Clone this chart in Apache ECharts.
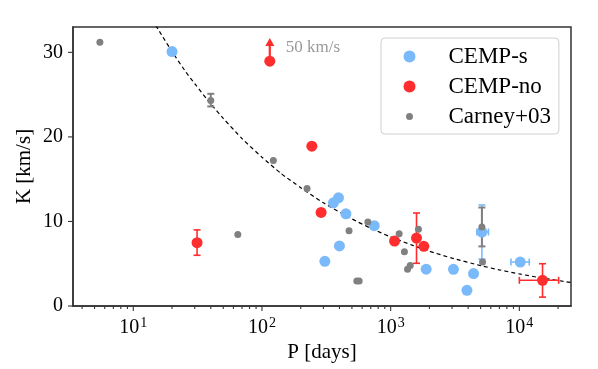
<!DOCTYPE html>
<html>
<head>
<meta charset="utf-8">
<script src="https://cdn.jsdelivr.net/npm/echarts@6/dist/echarts.min.js"></script>
<style>
html,body{margin:0;padding:0;background:#fff;}
#c{width:598px;height:369px;}
</style>
</head>
<body>
<div id="c"></div>
<script>
// ---- data ----
// CEMP-s
const sP = [20.0, 393, 359, 449, 745, 400, 308, 1888, 3076, 4406, 3915, 5117, 10160];
const sK = [30.1, 12.8, 12.2, 10.9, 9.5, 7.1, 5.28, 4.35, 4.34, 3.83, 1.86, 8.75, 5.2];
// error bars: [index, Plo, Phi, Klo, Khi]
const sErr = [[11, 4677, 5754, 5.55, 11.95], [12, 8610, 11940, 5.2, 5.2]];
// CEMP-no
const rP = [31.3, 244, 288, 1072, 1588, 1811, 15140];
const rK = [7.49, 18.9, 11.07, 7.68, 8.04, 7.06, 3.04];
const rErr = [[0, 31.3, 31.3, 6.0, 9.0], [4, 1588, 1588, 5.05, 11.0], [6, 10000, 20200, 1.05, 5.0]];
// CEMP-no lower limit (arrow), actual value 50 km/s
const rArrowP = [115];
const rArrowK = [28.96];
const rArrowTop = [31.7];
const arrowLabel = '50 km/s';
// Carney+03
const gP = [5.5, 40, 122.5, 224, 64.9, 475, 665, 1164, 1644, 1279, 1352, 1419, 546, 569, 5117, 5176];
const gK = [31.2, 24.3, 17.2, 13.9, 8.47, 8.9, 9.93, 8.56, 9.07, 6.43, 4.34, 4.78, 2.95, 2.95, 9.34, 5.2];
const gErr = [[1, 40, 40, 23.6, 25.1], [14, 5117, 5117, 7.05, 11.65]];
// dashed curve
const curveP = [14, 17, 20, 25, 30, 40, 50, 70, 100, 140, 200, 300, 500, 700, 1000, 1500, 2000, 3000, 5000, 7000, 10000, 15000, 25000];
const curveK = [33.9, 31.8, 30.1, 27.9, 26.3, 23.9, 22.2, 19.8, 17.6, 15.7, 14.0, 12.2, 10.3, 9.20, 8.17, 7.14, 6.48, 5.66, 4.78, 4.27, 3.79, 3.31, 2.79];
// axes
const xMin = 3.4, xMax = 25200;
const yMin = 0, yMax = 33, yInterval = 10;
const yTicks = [0, 10, 20, 30];
const xMajorTicks = [10, 100, 1000, 10000];
const xMinorTicks = [4,5,6,7,8,9, 20,30,40,50,60,70,80,90, 200,300,400,500,600,700,800,900, 2000,3000,4000,5000,6000,7000,8000,9000, 20000];
const seriesNames = ['CEMP-s', 'CEMP-no', 'Carney+03'];
const xTitle = 'P [days]';
const yTitle = 'K [km/s]';

// ---- style ----
const FONT = '"Liberation Serif", "DejaVu Serif", serif';
const BLUE = 'rgb(122,186,250)';
const RED = 'rgb(255,45,45)';
const GRAY = '#808080';
const SPINE = '#333';

const zip = (a, b) => a.map((v, i) => [v, b[i]]);
const errData = (P, K, E) => E.map(e => [P[e[0]], K[e[0]], e[1], e[2], e[3], e[4]]);

function errRender(color, w) {
  return function (params, api) {
    const P = api.value(0), K = api.value(1);
    const xl = api.value(2), xh = api.value(3), yl = api.value(4), yh = api.value(5);
    const cap = 3.5;
    const ch = [];
    const st = { stroke: color, lineWidth: w };
    const L = (x1, y1, x2, y2) => ch.push({ type: 'line', shape: { x1, y1, x2, y2 }, style: st });
    if (yl !== yh) {
      const a = api.coord([P, yl]), b = api.coord([P, yh]);
      L(a[0], a[1], b[0], b[1]);
      L(a[0] - cap, a[1], a[0] + cap, a[1]);
      L(b[0] - cap, b[1], b[0] + cap, b[1]);
    }
    if (xl !== xh) {
      const a = api.coord([xl, K]), b = api.coord([xh, K]);
      L(a[0], a[1], b[0], b[1]);
      L(a[0], a[1] - cap, a[0], a[1] + cap);
      L(b[0], b[1] - cap, b[0], b[1] + cap);
    }
    return { type: 'group', children: ch };
  };
}

function xTickRender(len) {
  return function (params, api) {
    const p = api.coord([api.value(0), yMin]);
    return { type: 'line', shape: { x1: p[0], y1: p[1], x2: p[0], y2: p[1] + len },
      style: { stroke: SPINE, lineWidth: 1.1 } };
  };
}
function yTickRender(len) {
  return function (params, api) {
    const p = api.coord([xMin, api.value(1)]);
    return { type: 'line', shape: { x1: p[0], y1: p[1], x2: p[0] - len, y2: p[1] },
      style: { stroke: SPINE, lineWidth: 1.1 } };
  };
}

const chart = echarts.init(document.getElementById('c'), null, { renderer: 'canvas' });
chart.setOption({
  animation: false,
  backgroundColor: '#fff',
  textStyle: { fontFamily: FONT },
  grid: { left: 73, right: 27, top: 27, bottom: 63, show: true, borderColor: SPINE, borderWidth: 1.5, backgroundColor: 'transparent' },
  xAxis: {
    type: 'log', logBase: 10, min: xMin, max: xMax,
    name: xTitle, nameLocation: 'middle', nameGap: 34,
    nameTextStyle: { fontFamily: FONT, fontSize: 21, color: '#000' },
    axisLine: { show: true, lineStyle: { color: SPINE, width: 1.5 } },
    axisTick: { show: false },
    splitLine: { show: false },
    minorTick: { show: false },
    axisLabel: {
      margin: 10, showMinLabel: false, showMaxLabel: false,
      formatter: function (v) {
        const e = Math.round(Math.log10(v));
        if (Math.abs(Math.log10(v) - e) > 1e-6) return '';
        return '{b|10}{s|' + e + '}';
      },
      rich: {
        b: { fontFamily: FONT, fontSize: 20, color: '#000' },
        s: { fontFamily: FONT, fontSize: 14, color: '#000', padding: [0, 0, 9, 1] }
      }
    }
  },
  yAxis: {
    type: 'value', min: yMin, max: yMax, interval: yInterval,
    name: yTitle, nameLocation: 'middle', nameGap: 38, nameMoveOverlap: false,
    nameTextStyle: { fontFamily: FONT, fontSize: 21, color: '#000' },
    axisLine: { show: true, lineStyle: { color: SPINE, width: 1.5 } },
    axisTick: { show: false },
    splitLine: { show: false },
    axisLabel: { margin: 10, fontFamily: FONT, fontSize: 20, color: '#000', showMaxLabel: false,
      formatter: function (v) { return yTicks.indexOf(v) >= 0 ? String(v) : ''; } }
  },
  legend: {
    data: [
      { name: seriesNames[0] },
      { name: seriesNames[1] },
      { name: seriesNames[2], itemStyle: { borderColor: '#fff', borderWidth: 5 } }
    ],
    orient: 'vertical', left: 381, top: 38,
    itemWidth: 28, itemHeight: 12, itemGap: 7,
    padding: [7, 8, 6, 20],
    backgroundColor: 'rgba(255,255,255,0.85)', borderColor: '#d0d0d0', borderWidth: 1, borderRadius: 4,
    icon: 'circle',
    selectedMode: false,
    textStyle: { fontFamily: FONT, fontSize: 23, color: '#000', padding: [0, 0, 0, 20], lineHeight: 23 }
  },
  series: [
    { type: 'line', data: zip(curveP, curveK), showSymbol: false, smooth: 0.2, clip: true,
      lineStyle: { color: '#000', width: 1.2, type: [4, 3] }, silent: true, z: 1 },
    { type: 'custom', name: 'xmajor', data: xMajorTicks.map(v => [v]), renderItem: xTickRender(5), clip: false, silent: true, encode: { x: 0 } },
    { type: 'custom', name: 'xminor', data: xMinorTicks.map(v => [v]), renderItem: xTickRender(3), clip: false, silent: true, encode: { x: 0 } },
    { type: 'custom', name: 'ymajor', data: yTicks.map(v => [xMin, v]), renderItem: yTickRender(5), clip: false, silent: true, encode: { x: 0, y: 1 } },
    { type: 'custom', name: seriesNames[0], data: errData(sP, sK, sErr), renderItem: errRender(BLUE, 1.6), encode: { x: 0, y: 1 }, itemStyle: { color: BLUE }, z: 2 },
    { type: 'scatter', name: seriesNames[0], data: zip(sP, sK), symbol: 'circle', symbolSize: 11, itemStyle: { color: BLUE, opacity: 1 }, z: 2 },
    { type: 'custom', name: seriesNames[1], data: errData(rP, rK, rErr), renderItem: errRender(RED, 1.6), encode: { x: 0, y: 1 }, itemStyle: { color: RED }, z: 2 },
    { type: 'custom', name: seriesNames[1],
      data: rArrowP.map((p, i) => [p, rArrowK[i], rArrowTop[i]]),
      encode: { x: 0, y: 1 }, clip: false, itemStyle: { color: RED }, z: 2,
      renderItem: function (params, api) {
        const a = api.coord([api.value(0), api.value(1)]);
        const b = api.coord([api.value(0), api.value(2)]);
        const hh = 8, hw = 4.5;
        return { type: 'group', children: [
          { type: 'line', shape: { x1: a[0], y1: a[1], x2: b[0], y2: b[1] + hh }, style: { stroke: RED, lineWidth: 2.2 } },
          { type: 'polygon', shape: { points: [[b[0], b[1]], [b[0] - hw, b[1] + hh], [b[0] + hw, b[1] + hh]] }, style: { fill: RED } },
          { type: 'circle', shape: { cx: a[0], cy: a[1], r: 5.5 }, style: { fill: RED } },
          { type: 'text', x: a[0] + 16, y: b[1] + 10, style: { text: arrowLabel, fill: '#999', font: '17px ' + FONT, verticalAlign: 'middle', align: 'left' } }
        ] };
      } },
    { type: 'scatter', name: seriesNames[1], data: zip(rP, rK), symbol: 'circle', symbolSize: 11, itemStyle: { color: RED, opacity: 1 }, z: 2 },
    { type: 'custom', name: seriesNames[2], data: errData(gP, gK, gErr), renderItem: errRender(GRAY, 2), encode: { x: 0, y: 1 }, itemStyle: { color: GRAY }, z: 2 },
    { type: 'scatter', name: seriesNames[2], data: zip(gP, gK), symbol: 'circle', symbolSize: 7, itemStyle: { color: GRAY, opacity: 1 }, z: 2 }
  ]
});
</script>
</body>
</html>
